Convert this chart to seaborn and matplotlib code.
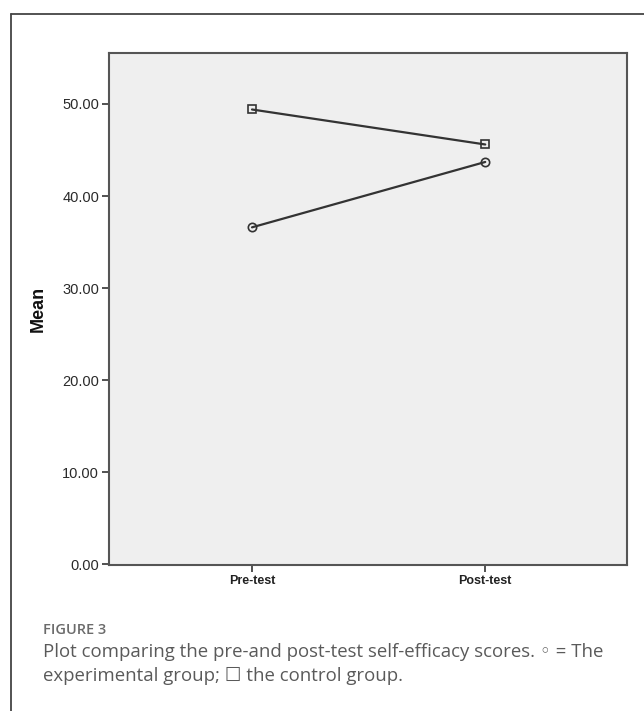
import pandas as pd
import matplotlib.pyplot as plt
import seaborn as sns
from matplotlib.lines import Line2D

# Values
tests = ['Pre-test', 'Post-test']
experimental_means = [36.6, 43.7]
control_means = [49.4, 45.6]
yticks = [0, 10, 20, 30, 40, 50]

data = pd.DataFrame({
    'Test': tests * 2,
    'Mean': experimental_means + control_means,
    'Group': ['Experimental'] * 2 + ['Control'] * 2,
})

sns.set_theme(style="white")
plt.rcParams['font.family'] = ['Liberation Sans', 'DejaVu Sans']

fig = plt.figure(figsize=(6.44, 7.11), dpi=100)
ax = fig.add_axes([0.169, 0.205, 0.805, 0.72])
ax.set_facecolor('#efefef')

sns.lineplot(data=data, x='Test', y='Mean', style='Group', markers={'Experimental': 'o', 'Control': 's'},
             dashes=False, color='#333333', linewidth=1.6, markersize=6,
             markerfacecolor='none', markeredgecolor='#333333', markeredgewidth=1.2,
             legend=False, ax=ax)

ax.set_xlim(-0.614, 1.609)
ax.set_ylim(-0.1, 55.5)
ax.set_yticks(yticks)
ax.set_yticklabels([f"{v:.2f}" for v in yticks], fontsize=10.5, color='#2a2a2a')
ax.set_xticks(range(len(tests)))
ax.set_xticklabels(tests, fontsize=9, color='#222222', fontweight='bold')
ax.set_xlabel('')
ax.set_ylabel('Mean', fontsize=13, fontweight='bold', color='#111111', labelpad=11)
ax.tick_params(axis='both', direction='out', length=5, width=1.2, color='#333333',
               left=True, bottom=True, pad=2)
for sp in ax.spines.values():
    sp.set_color('#555555')
    sp.set_linewidth(1.5)

# outer frame of the figure panel
fig.add_artist(Line2D([11 / 644, 11 / 644], [0, 1 - 14 / 711], color='#444444', lw=1.3))
fig.add_artist(Line2D([11 / 644, 1], [1 - 14 / 711, 1 - 14 / 711], color='#444444', lw=1.3))

cap_font = ['Open Sans', 'DejaVu Sans']
fig.text(43 / 644, 1 - 630 / 711, 'FIGURE 3', fontsize=10.5, color='#6b6b6b', family=cap_font,
         fontweight='semibold', va='center', ha='left')
fig.text(43 / 644, 1 - 652 / 711, 'Plot comparing the pre-and post-test self-efficacy scores. \u25e6 = The',
         fontsize=13.4, color='#5a5a5a', family=cap_font, va='center', ha='left')
fig.text(43 / 644, 1 - 676 / 711, 'experimental group; \u2610 the control group.',
         fontsize=13.4, color='#5a5a5a', family=cap_font, va='center', ha='left')

plt.savefig('out.png', dpi=100)
